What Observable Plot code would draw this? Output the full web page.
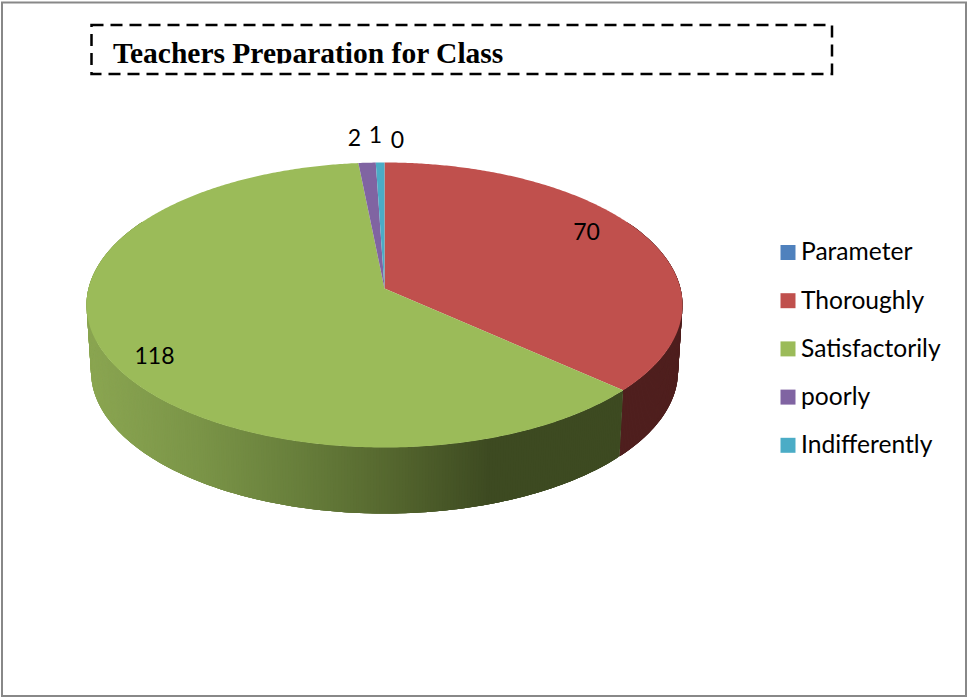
<!DOCTYPE html>
<html>
<head>
<meta charset="utf-8">
<script src="https://cdn.jsdelivr.net/npm/d3@7"></script>
<script src="https://cdn.jsdelivr.net/npm/@observablehq/plot@0.6"></script>
<style>
html,body{margin:0;padding:0;background:#fff;overflow:hidden}
svg{display:block}
</style>
</head>
<body>
<div id="chart"></div>
<script>
// ---- chart values ----
const titleText = "Teachers Preparation for Class";
const categories = ["Parameter", "Thoroughly", "Satisfactorily", "poorly", "Indifferently"];
const values = [0, 70, 118, 2, 1];
const faceColors = ["#4F81BD", "#C0504D", "#9BBB59", "#8064A2", "#4BACC6"];

// ---- layout and styling only ----
const W = 967, H = 698;
const cx = 384, apexY = 288, rimX = 296, rimY = 140.6, tilt = 0.1158;
const depth = 66, baseShrink = 0.985;
const wallStops = [[90, "#8AA551"], [200, "#7A9447"], [300, "#677E3B"], [385, "#56682F"], [490, "#3D4A21"], [640, "#3D4A21"]];
const redWall = "#4F1F1E";
const labelOffsets = [[397, 140], [586, 232], [154, 356], [354, 138], [375, 135]];
const legendX = 787.5, legendTextX = 800.5, legendY0 = 252, legendStep = 48.2;

// ---- geometry derived from the values ----
const total = d3.sum(values);
const project = deg => {
  const t = deg * Math.PI / 180, u = Math.sin(t), v = Math.cos(t), d = 1 + tilt * v;
  return [cx + rimX * u / d, apexY - rimY * v / d];
};
const base = ([x, y]) => [cx + (x - cx) * baseShrink, y + depth];

let acc = 0;
const slices = values.map((v, i) => {
  const a0 = acc / total * 360; acc += v;
  return {name: categories[i], value: v, a0, a1: acc / total * 360, color: faceColors[i]};
});

const faceRows = [];
slices.filter(s => s.value > 0).forEach(s => {
  faceRows.push({id: s.name, x: cx, y: apexY, color: s.color});
  const n = Math.max(2, Math.ceil(s.a1 - s.a0) * 2);
  for (let k = 0; k <= n; k++) {
    const [x, y] = project(s.a0 + (s.a1 - s.a0) * k / n);
    faceRows.push({id: s.name, x, y, color: s.color});
  }
});

const wallColor = d3.scaleLinear().domain(wallStops.map(d => d[0])).range(wallStops.map(d => d[1])).interpolate(d3.interpolateRgb).clamp(true);
const redEnd = slices[1].a1;
const wallRows = [];
const addStrip = (id, a, b, color) => {
  const top = [a, (a + b) / 2, b].map(project);
  [...top, ...top.map(base).reverse()].forEach(([x, y]) => wallRows.push({id, x, y, color}));
};
// overlapping strips, painted in order so that no gaps show between them
let stripId = 0;
for (let a = 60; a < redEnd; a += 0.5) addStrip("w" + stripId++, a, Math.min(a + 2, redEnd), redWall);
for (let a = redEnd; a < 300; a += 0.5) addStrip("w" + stripId++, a, Math.min(a + 2, 300), wallColor(project(a + 0.25)[0]));

const labelRows = slices.map((s, i) => ({text: String(s.value), x: labelOffsets[i][0], y: labelOffsets[i][1]}));
const legendRows = slices.map((s, i) => ({name: s.name, color: s.color, y: legendY0 + i * legendStep}));
const pageFrame = [{x1: 2, x2: 966, y1: 2.5, y2: 696}];
const titleBox = [{x1: 91.5, x2: 832, y1: 25, y2: 74}];
const titleMask = [{x1: 100, x2: 820, y1: 63.5, y2: 72}];

const labelFont = "Lato, Carlito, sans-serif";

const chart = Plot.plot({
  width: W, height: H,
  margin: 0,
  style: {background: "#fff"},
  x: {type: "identity", axis: null},
  y: {type: "identity", axis: null},
  color: {type: "identity"},
  marks: [
    Plot.rect(pageFrame, {x1: "x1", x2: "x2", y1: "y1", y2: "y2", fill: "none", stroke: "#888", strokeWidth: 2}),
    Plot.text([titleText], {x: 112.5, y: 62.5, text: d => d, textAnchor: "start", lineAnchor: "bottom", fontFamily: "'Liberation Serif', serif", fontWeight: "bold", fontSize: 29.5, fill: "#000"}),
    Plot.rect(titleMask, {x1: "x1", x2: "x2", y1: "y1", y2: "y2", fill: "#fff"}),
    Plot.rect(titleBox, {x1: "x1", x2: "x2", y1: "y1", y2: "y2", fill: "none", stroke: "#000", strokeWidth: 2.5, strokeDasharray: "12,7"}),
    Plot.line(wallRows, {x: "x", y: "y", z: "id", fill: "color", stroke: "none", curve: "linear-closed"}),
    Plot.line(faceRows, {x: "x", y: "y", z: "id", fill: "color", stroke: "none", curve: "linear-closed"}),
    Plot.text(labelRows, {x: "x", y: "y", text: "text", fontFamily: labelFont, fontSize: 23, fill: "#000"}),
    Plot.dot(legendRows, {x: () => legendX, y: "y", symbol: "square", r: 8.46, fill: "color", stroke: "none"}),
    Plot.text(legendRows, {x: () => legendTextX, y: "y", text: "name", textAnchor: "start", fontFamily: labelFont, fontSize: 24.6, fill: "#000"})
  ]
});
document.getElementById("chart").appendChild(chart);
</script>
</body>
</html>
